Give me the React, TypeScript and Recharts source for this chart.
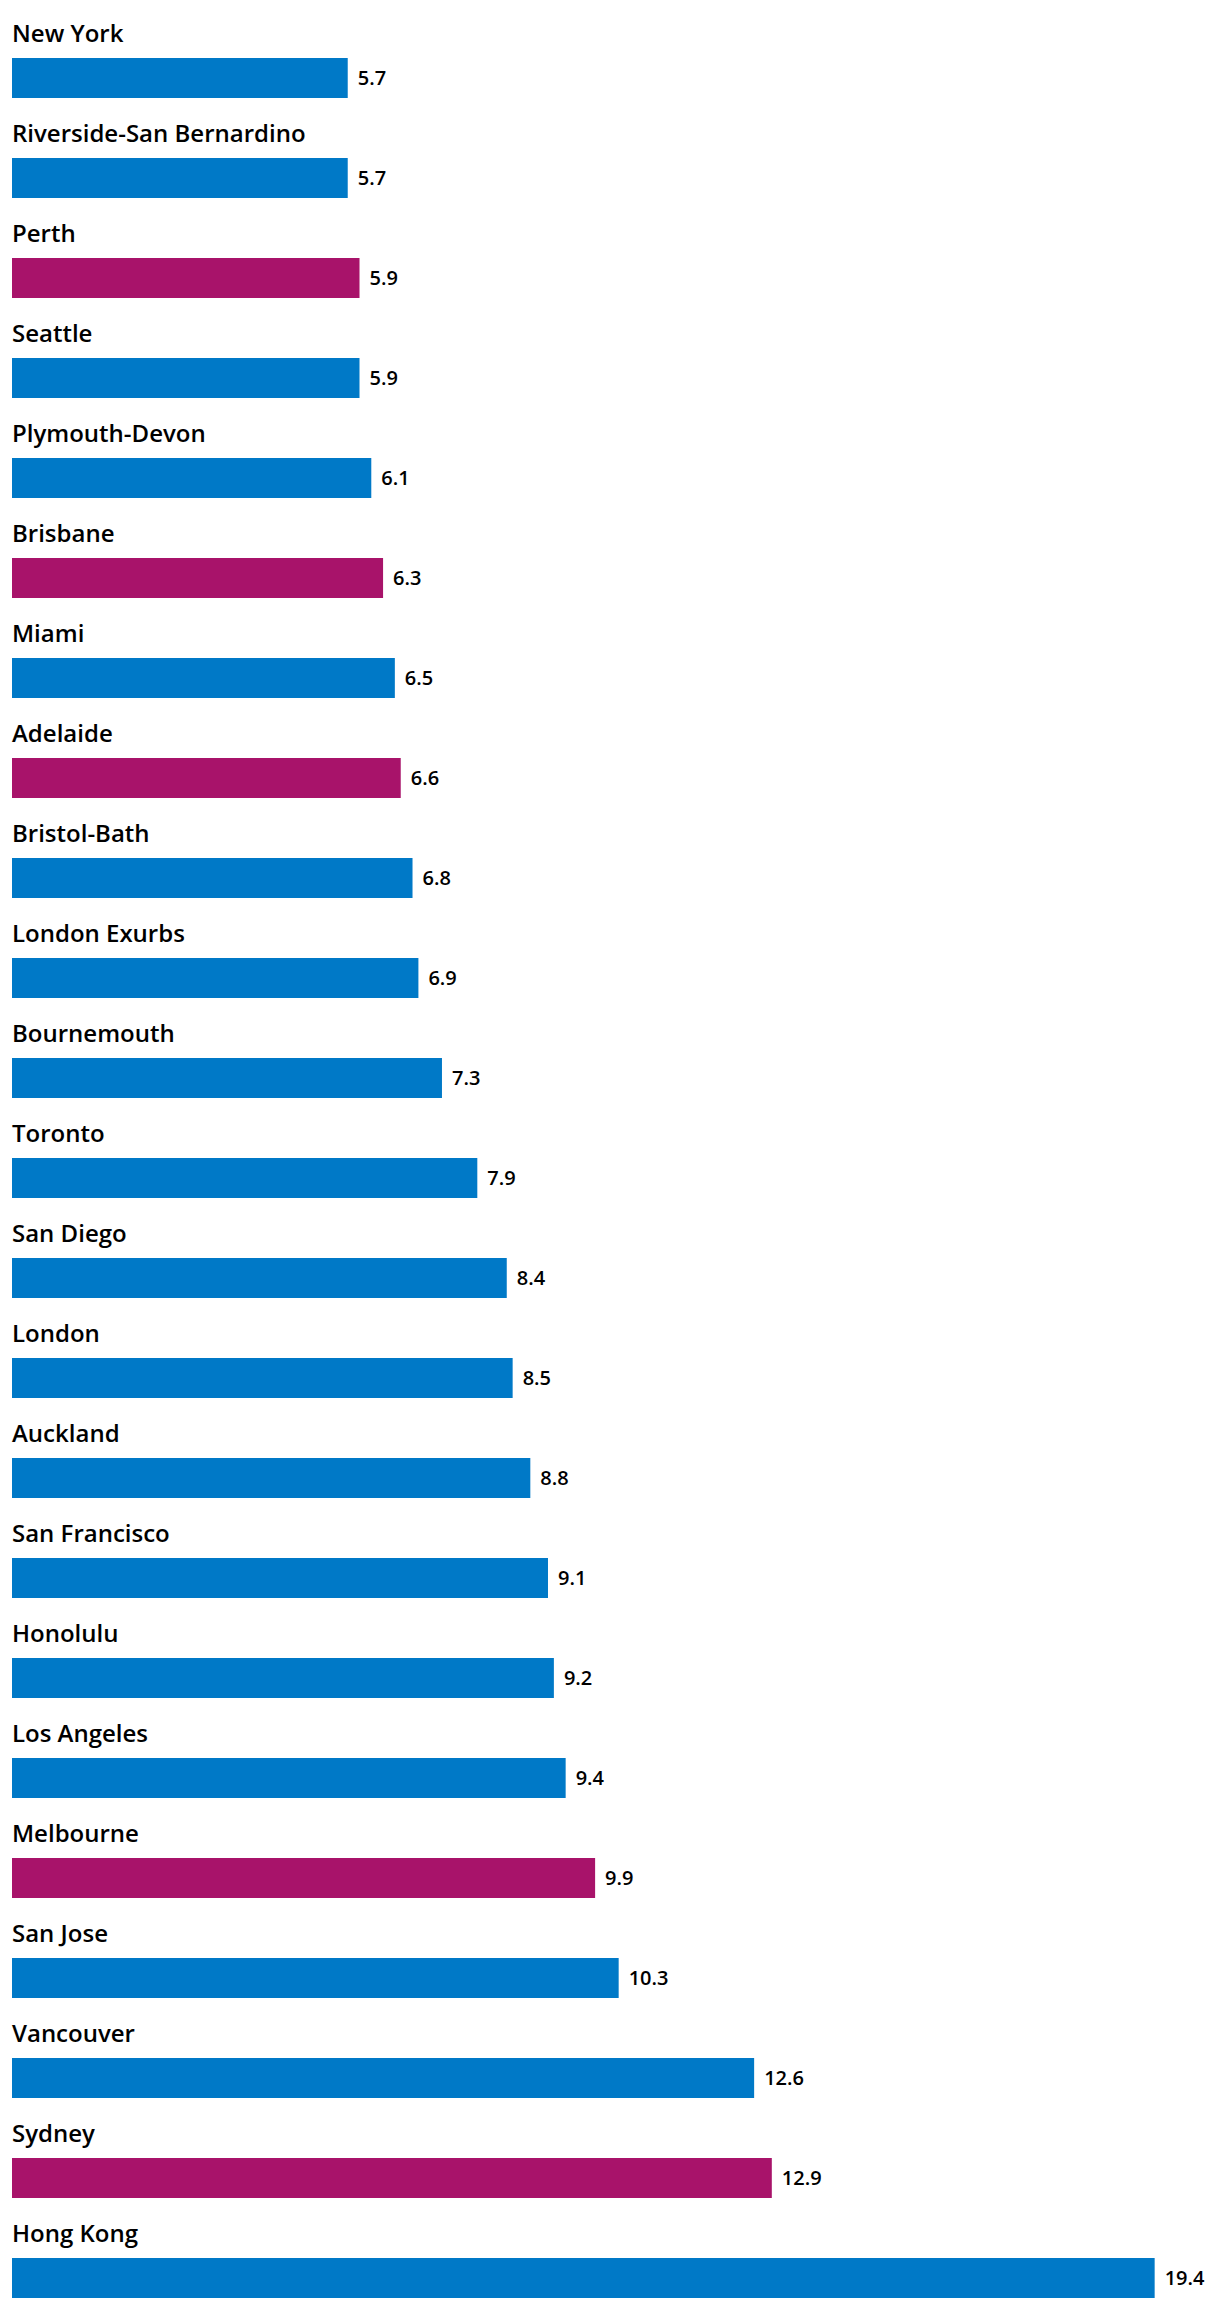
import { Bar, BarChart, Cell, LabelList, XAxis, YAxis } from "recharts";

const cities = [
  "New York",
  "Riverside-San Bernardino",
  "Perth",
  "Seattle",
  "Plymouth-Devon",
  "Brisbane",
  "Miami",
  "Adelaide",
  "Bristol-Bath",
  "London Exurbs",
  "Bournemouth",
  "Toronto",
  "San Diego",
  "London",
  "Auckland",
  "San Francisco",
  "Honolulu",
  "Los Angeles",
  "Melbourne",
  "San Jose",
  "Vancouver",
  "Sydney",
  "Hong Kong",
];

const ratios = [
  5.7, 5.7, 5.9, 5.9, 6.1, 6.3, 6.5, 6.6, 6.8, 6.9, 7.3, 7.9, 8.4, 8.5, 8.8,
  9.1, 9.2, 9.4, 9.9, 10.3, 12.6, 12.9, 19.4,
];

const australian = ["Perth", "Brisbane", "Adelaide", "Melbourne", "Sydney"];

const BLUE = "#0079C7";
const MAGENTA = "#A8136A";
const FONT = "'Open Sans', 'Noto Sans', sans-serif";

const data = cities.map((city, i) => ({ city, value: ratios[i] }));

const CityLabel = (props: any) => {
  const { x, y, value } = props;
  return (
    <text x={x} y={y - 16} fill="#000" fontSize={24} fontWeight={600} fontFamily={FONT}>
      {value}
    </text>
  );
};

const ValueLabel = (props: any) => {
  const { x, y, width, height, value } = props;
  return (
    <text
      x={x + width + 10}
      y={y + height / 2 + 7}
      fill="#000"
      fontSize={20}
      fontWeight={600}
      fontFamily={FONT}
    >
      {Number(value).toFixed(1)}
    </text>
  );
};

export default function App() {
  return (
    <div style={{ width: 1220, height: 2308, overflow: "hidden", background: "#fff" }}>
      <style>{`body { margin: 0; }`}</style>
      <BarChart
        width={1220}
        height={2328}
        data={data}
        layout="vertical"
        margin={{ top: 28, right: 30, bottom: 0, left: 12 }}
      >
        <XAxis type="number" domain={[0, 20]} hide />
        <YAxis type="category" dataKey="city" hide width={0} />
        <Bar dataKey="value" barSize={40} isAnimationActive={false}>
          {data.map((d) => (
            <Cell key={d.city} fill={australian.includes(d.city) ? MAGENTA : BLUE} />
          ))}
          <LabelList dataKey="city" content={CityLabel} />
          <LabelList dataKey="value" content={ValueLabel} />
        </Bar>
      </BarChart>
    </div>
  );
}
